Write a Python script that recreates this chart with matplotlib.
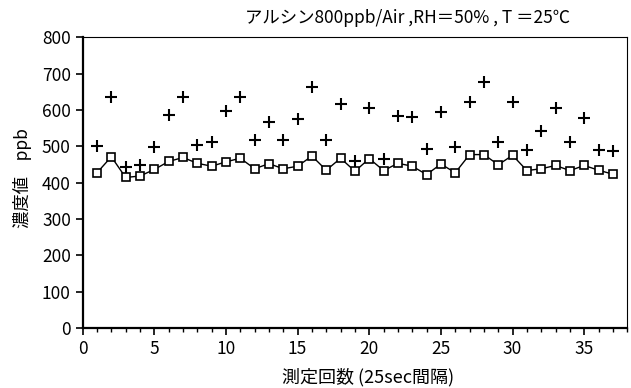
import numpy as np
import matplotlib
matplotlib.use('Agg')
import matplotlib.pyplot as plt
from matplotlib.ticker import MultipleLocator

plt.rcParams['font.family'] = ['Noto Sans CJK JP', 'DejaVu Sans']

# measurement number 1..37
count = list(range(1, 38))
# "+" series (ppb)
plus_vals = [500, 635, 443, 449, 499, 587, 635, 504, 513, 598,
             635, 517, 568, 517, 576, 664, 517, 616, 458, 605,
             464, 583, 580, 493, 595, 499, 622, 677, 513, 622,
             490, 543, 605, 513, 578, 490, 486]
# square series (ppb)
box_vals = [427, 471, 414, 418, 436, 458, 469, 453, 445, 457,
            467, 438, 452, 438, 445, 473, 434, 467, 431, 466,
            433, 453, 445, 422, 451, 427, 477, 477, 449, 475,
            433, 438, 447, 433, 447, 434, 423]

title = 'アルシン800ppb/Air ,RH＝50% , T ＝25℃'
xlabel = '測定回数 (25sec間隔)'
ylabel = '濃度値    ppb'

fig = plt.figure(figsize=(6.31, 3.88), dpi=100)
ax = fig.add_axes([0.131, 0.155, 0.863, 0.749])

ax.plot(count, box_vals, color='black', lw=1.0, marker='s', ms=6,
        mfc='white', mec='black', mew=1.2)
ax.plot(count, plus_vals, ls='none', marker='+', ms=8, mew=1.5, color='black')

ax.set_xlim(0, 38)
ax.set_ylim(0, 800)
ax.xaxis.set_major_locator(MultipleLocator(5))
ax.xaxis.set_minor_locator(MultipleLocator(1))
ax.yaxis.set_major_locator(MultipleLocator(100))
ax.tick_params(axis='both', which='major', direction='out', length=5, width=1.2,
               labelsize=12.5)
ax.tick_params(axis='x', which='minor', direction='out', length=3, width=1.0)

for side in ['left', 'bottom']:
    ax.spines[side].set_linewidth(1.6)
for side in ['top', 'right']:
    ax.spines[side].set_linewidth(0.8)

fig.text(408 / 631, 0.954, title, ha='center', va='center', fontsize=12.5)
fig.text(368 / 631, 1 - 377 / 388, xlabel, ha='center', va='center', fontsize=13)
fig.text(22 / 631, 1 - 178 / 388, ylabel, ha='center', va='center',
         rotation=90, fontsize=12.5)

fig.savefig('out.png', dpi=100)
